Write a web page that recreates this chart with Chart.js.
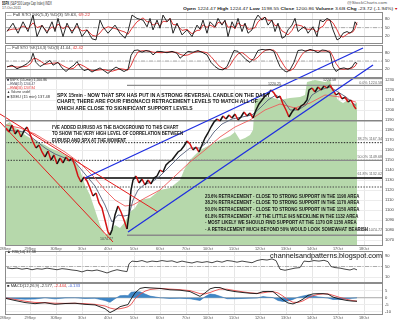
<!DOCTYPE html>
<html><head><meta charset="utf-8">
<script src="https://cdn.jsdelivr.net/npm/chart.js@4.4.1/dist/chart.umd.min.js"></script>
<style>
html,body{margin:0;padding:0;background:#fff;}
body{width:400px;height:323px;position:relative;overflow:hidden;font-family:"Liberation Sans",Arial,sans-serif;}
canvas{position:absolute;left:0;}
.t{position:absolute;white-space:nowrap;line-height:1;color:#222;z-index:5;transform-origin:0 0;}
.blk{font-weight:bold;color:#161616;}
.fib{position:absolute;white-space:nowrap;line-height:1;color:#666;font-size:3.7px;right:18px;z-index:5;}
.pl{position:absolute;white-space:nowrap;line-height:1;color:#444;font-size:3.6px;z-index:5;}
</style></head><body>
<canvas id="c1" width="400" height="32" style="top:12px;z-index:1"></canvas>
<canvas id="c2" width="400" height="33" style="top:45px;z-index:1"></canvas>
<canvas id="c3" width="400" height="209" style="top:44px;z-index:2"></canvas>
<canvas id="c4" width="400" height="32" style="top:251px;z-index:1"></canvas>
<canvas id="c5" width="400" height="39" style="top:283px;z-index:1"></canvas>

<div class="t" data-w="50" style="left:2px;top:0.6px;font-size:5px"><b>$SPX</b> <span style="color:#333">(S&amp;P 500 Large Cap Index) INDX</span></div>
<div class="t" data-w="19" style="left:2px;top:6.6px;font-size:3.6px;color:#444">17-Oct-2011</div>
<div class="t" data-w="40" style="left:347px;top:0.8px;font-size:4px;color:#555">@StockCharts.com</div>
<div class="t" data-w="214" style="left:183px;top:6.5px;font-size:4.4px"><b>Open</b> 1224.47 <b>High</b> 1224.47 <b>Low</b> 1198.55 <b>Close</b> 1200.86 <b>Volume</b> 3.6B <b>Chg</b> -23.72 (-1.94%) <span style="color:#c00">&#9662;</span></div>

<div class="t" data-w="83" style="left:7px;top:12.8px;font-size:4px;color:#333">&#8212; Full STO %K(5,3) %D(3) 59.63, <span style="color:#e03030">69.22</span></div>
<div class="t" data-w="76" style="left:7px;top:45.8px;font-size:4px;color:#333">&#8212; Full STO %K(14,3) %D(3) 41.04, <span style="color:#e03030">42.42</span></div>

<div class="t" data-w="40" style="left:6.5px;top:79.2px;font-size:3.8px;color:#333"><span style="color:#223">&#9632;</span> $SPX (15-min) 1,200.86</div>
<div class="t" data-w="28" style="left:6.5px;top:83.2px;font-size:3.8px;color:#445"><span>&#8212;</span>EMA(13) 1204.47</div>
<div class="t" data-w="28" style="left:6.5px;top:87.2px;font-size:3.8px;color:#e03030">&#8212;EMA(34) 1207.84</div>
<div class="t" data-w="23" style="left:6.5px;top:91.4px;font-size:3.8px;color:#333">&#9650; Volume undef</div>
<div class="t" data-w="43" style="left:6.5px;top:95.8px;font-size:3.8px;color:#333">&#9632; $XEU (15 min) 137.48</div>

<div class="t blk" data-w="213" style="left:57px;top:91.6px;font-size:5px;line-height:6.6px">SPX 15min - NOW THAT SPX HAS PUT IN A STRONG REVERSAL CANDLE ON THE DAILY<br>CHART, THERE ARE FOUR FIBONACCI RETRACEMENT LEVELS TO MATCH ALL OF<br>WHICH ARE CLOSE TO SIGNIFICANT SUPPORT LEVELS</div>
<div class="t blk" data-w="131" style="left:52px;top:123.6px;font-size:5px;line-height:6.5px">I'VE ADDED EURUSD AS THE BACKGROUND TO THIS CHART<br>TO SHOW THE VERY HIGH LEVEL OF CORRELATION BETWEEN<br>EURUSD AND SPX AT THE MOMENT</div>
<div class="t blk" data-w="163" style="left:205px;top:192.6px;font-size:5px;line-height:6.65px">23.6% RETRACEMENT - CLOSE TO STRONG SUPPORT IN THE 1190 AREA<br>38.2% RETRACEMENT - CLOSE TO STRONG SUPPORT IN THE 1170 AREA<br>50.0% RETRACEMENT - CLOSE TO STRONG SUPPORT IN THE 1150 AREA<br>61.8% RETRACEMENT - AT THE LITTLE IHS NECKLINE IN THE 1132 AREA<br>- MOST LIKELY WE SHOULD FIND SUPPORT AT THE 1170 OR 1150 AREA<br>- A RETRACEMENT MUCH BEYOND 50% WOULD LOOK SOMEWHAT BEARISH</div>

<div class="fib" style="top:81.5px">0.0% 1224.58</div>
<div class="fib" style="top:138.2px">38.2% 1167.34</div>
<div class="fib" style="top:155.9px">50.0% 1149.68</div>
<div class="fib" style="top:173.2px">61.8% 1132.02</div>
<div class="fib" style="top:229.4px">100.0% 1074.77</div>

<div class="pl" style="left:323px;top:79.2px">1224.58</div>
<div class="pl" style="left:268px;top:83.2px">1220.25</div>
<div class="pl" style="left:100px;top:238.4px">1074.77</div>

<div class="t" data-w="112" style="left:270px;top:252.3px;font-size:7.6px;color:#111">channelsandpatterns.blogspot.com</div>
<div class="t" data-w="29" style="left:7px;top:250.8px;font-size:3.8px;color:#333">&#9650; RSI(14) 37.58</div>
<div class="t" data-w="73" style="left:7px;top:284.9px;font-size:3.8px;color:#333">&#9632; MACD(12,26,9) -2.577, <span style="color:#e03030">-2.444</span>, <span style="color:#4060d0">-0.133</span></div>

<script>
// ---------------- DATA ----------------
// time axis: 15-min bars, day tick positions and labels
const dayLabels = ['28Sep','29Sep','30Sep','3Oct','4Oct','5Oct','6Oct','7Oct','10Oct','11Oct','12Oct','13Oct','14Oct','17Oct','18Oct'];
const dayPos = [5,30,56,82,108,134,160,186,208,234,260,286,312,338,364];
const X_MIN = 5, X_MAX = 383;

// $SPX 15-min closes
const priceT = [6,9,12,15,18,21,24,27,30,33,
 36,39,42,45,48,51,54,57,60,63,
 66,69,72,75,78,81,84,87,90,93,
 96,99,102,105,108,110,112,115,118,121,
 124,127,129,131,133,136,139,142,145,148,
 151,154,157,160,163,166,169,172,175,178,
 181,184,187,190,193,196,199,202,205,208,
 211,214,217,220,223,226,229,232,235,238,
 241,244,247,250,253,256,259,262,265,268,
 271,274,277,280,283,286,289,292,295,298,
 301,304,307,309,312,315,318,321,324,327,
 330,333,336,339,342,345,348,351,354,356];
const priceV = [1182,1178,1185,1176,1180,1173,1179,1183,1176,1168,
 1162,1165,1158,1153,1159,1150,1155,1146,1152,1147,
 1153,1149,1152,1144,1134,1128,1133,1129,1122,1114,
 1117,1107,1102,1090,1078,1075,1080,1095,1104,1098,
 1090,1081,1096,1120,1130,1134,1127,1131,1125,1130,
 1126,1132,1134,1140,1138,1145,1148,1150,1154,1158,
 1160,1164,1169,1166,1160,1163,1158,1165,1172,1177,
 1183,1188,1191,1189,1194,1191,1195,1192,1196,1190,
 1193,1198,1194,1197,1192,1200,1206,1210,1214,1216,
 1220,1217,1212,1214,1206,1200,1193,1198,1202,1200,
 1204,1206,1210,1220,1222,1218,1223,1220,1224,1222,
 1225,1220,1215,1217,1211,1213,1208,1210,1204,1201];

// EMA(13) and EMA(34)
const ema13T = [6,15,25,35,45,55,65,75,85,95, 105,112,118,124,129,133,138,145,152,160, 170,180,190,200,207,214,222,232,242,252, 260,268,276,284,290,298,306,312,320,330, 338,346,356];
const ema13V = [1180,1179,1178,1170,1162,1156,1152,1148,1136,1124, 1105,1088,1095,1094,1095,1110,1120,1126,1128,1134, 1144,1154,1162,1162,1168,1178,1186,1191,1193,1195, 1202,1210,1215,1209,1200,1200,1205,1215,1220,1223, 1218,1213,1204.5];
const ema34T = [6,20,35,50,65,80,95,105,115,125, 133,145,160,175,190,205,220,235,250,265, 280,295,310,325,340,356];
const ema34V = [1185,1182,1176,1167,1158,1147,1132,1120,1110,1104, 1105,1112,1120,1134,1148,1160,1173,1183,1190,1200, 1206,1202,1207,1215,1213,1207.8];

// $XEU (EURUSD x100) background
const eurT = [5,10,15,20,25,30,35,40,45,50, 55,60,65,70,75,80,85,90,95,100, 105,110,115,120,125,130,135,140,150,160, 170,180,185,190,195,200,210,220,230,235, 240,245,250,253,255,260,270,280,290,300, 305,307,315,325,330,333,338,343,348,353, 357];
const eurV = [136.46,136.59,136.32,136.23,136.01,135.87,135.78,135.65,135.56,135.42, 135.33,135.24,135.11,135.02,134.88,134.43,133.76,133.31,132.63,131.96, 131.51,131.64,131.96,131.82,132.09,132.54,132.72,133.08,133.17,133.53, 133.62,133.98,134.52,134.88,135.11,135.33,135.56,135.78,135.96,136.14, 135.78,135.87,136.01,136.23,137.58,137.67,137.72,137.58,137.67,137.72, 137.81,138.39,138.48,138.39,138.48,138.03,137.58,137.45,137.58,137.36, 137.48];

// price levels
const supportLevels = [1189.2, 1167.34, 1149.68, 1123.0];
const fibLevels = [1224.58, 1149.68, 1074.77];
const fibStartT = 127;
const necklineV = 1132.02, necklineT = 85;

// trendlines (time, price endpoints)
const redSteepT = [0, 113],   redSteepV = [1188, 1068];
const redFlatT = [0, 158],    redFlatV = [1196, 1098];
const blueUpT = [85, 363],    blueUpV = [1132, 1262];
const blueLowT = [128, 373],  blueLowV = [1078, 1245];

// Full STO (5,3)
const sto1T = [7,13,18,23,28,33,37,42,47,52, 55,58,63,67,72,77,82,87,92,96, 100,103,108,115,120,125,128,132,137,143, 147,150,153,157,160,163,167,170,173,177, 182,187,192,197,200,203,207,210,215,218, 222,225,228,232,235,238,242,245,248,252, 255,258,262,265,268,272,275,278,282,285, 288,292,295,298,302,305,308,313,317,320, 323,327,330,333,337,340,343,347,350,353, 355,357];
const sto1K = [36,66,30,71,36,95,18,59,30,71, 36,83,18,66,30,66,18,42,10,6, 77,53,30,59,30,12,36,95,83,77, 53,83,42,77,48,95,71,83,30,66, 24,42,18,59,45,77,30,71,53,83, 59,77,18,71,48,83,36,66,30,42, 77,95,77,88,59,77,36,66,12,18, 42,59,83,36,48,53,30,53,18,77, 71,83,77,42,6,12,30,36,30,40, 71,60];
const sto1D = [40,45,44,56,46,67,50,57,36,53, 46,63,46,56,38,54,38,42,23,19, 31,45,53,47,40,34,26,48,71,85, 71,71,59,67,56,73,71,83,61,60, 40,44,28,40,41,60,51,59,51,69, 65,73,51,55,46,67,56,62,44,46, 50,71,83,87,75,75,57,60,38,32, 24,40,61,59,56,46,44,45,34,49, 55,77,77,67,42,20,16,26,32,35, 47,69];

// Full STO (14,3)
const sto2T = [7,12,17,22,27,31,33,36,40,45, 50,53,58,62,66,70,74,77,80,84, 88,92,96,100,104,108,112,116,120,124, 128,131,134,138,142,146,150,153,157,162, 167,172,177,180,184,188,193,198,203,207, 211,215,219,223,227,230,234,238,242,246, 250,254,258,262,266,270,274,277,280,284, 287,290,294,298,302,306,310,314,318,322, 326,330,333,336,340,344,348,352,355,357];
const sto2K = [28,35,22,30,40,55,78,45,30,40, 52,35,45,25,12,25,35,48,30,15, 20,10,18,25,15,5,18,28,20,12, 20,70,88,90,82,88,85,72,85,84, 80,85,78,60,72,85,82,88,80,72, 45,30,20,18,30,55,88,85,70,55, 45,60,88,92,90,92,85,55,30,15, 10,18,45,88,90,85,92,88,80,90, 88,80,30,12,22,25,20,28,45,41];
const sto2D = [30,31,28,29,31,42,58,59,51,38, 41,42,44,35,27,21,24,36,38,31, 22,15,16,18,19,15,13,17,22,20, 17,34,59,83,87,87,85,82,81,80, 83,83,81,74,70,72,80,85,83,80, 66,49,32,23,23,34,58,76,81,70, 57,53,64,80,90,91,89,77,57,33, 18,14,24,50,74,88,89,88,87,86, 86,86,66,41,21,20,22,24,31,42];

// RSI(14)
const rsiT = [7,12,17,22,27,32,37,42,47,52, 57,62,67,72,77,82,87,92,97,102, 107,112,117,122,127,129,132,137,142,147, 152,157,162,167,172,177,182,187,192,197, 202,207,212,217,222,227,232,237,242,247, 252,257,262,267,272,276,280,285,290,295, 300,304,309,314,319,324,328,331,335,340, 345,350,354,357];
const rsiV = [45,42,44,40,43,38,42,40,44,41, 38,42,40,37,35,30,36,34,37,32, 26,33,38,34,31,60,70,68,72,66, 70,68,72,69,71,65,70,66,63,68, 65,68,64,70,66,72,70,66,70,67, 64,72,76,74,78,72,40,36,40,44, 46,70,68,72,70,73,68,50,46,44, 40,37,42,37.6];

// MACD(12,26,9)
const macdT = [6,15,25,35,45,55,65,75,85,95, 105,110,115,120,125,128,131,135,140,145, 150,160,170,180,190,200,205,210,215,220, 227,235,243,250,257,263,268,273,278,283, 288,293,298,303,308,313,318,323,328,333, 340,347,352,357];
const macdV = [-0.5,-2.0,-3.5,-4.3,-3.6,-4.8,-4.2,-4.0,-4.8,-5.2, -8.0,-10.8,-9.0,-6.5,-5.5,-5.0,-1.0,3.5,6.8,7.5, 7.2,6.8,5.8,5.5,4.5,1.0,3.5,6.5,7.5,7.4, 5.5,4.5,3.8,3.3,3.0,4.5,4.6,4.5,1.5,-1.5, -3.8,-4.5,-3.0,-1.0,1.8,2.8,3.0,3.0,2.6,0.5, -1.0,-2.0,-2.4,-2.58];
const signalV = [-0.2,-1.2,-2.5,-3.4,-3.6,-4.0,-4.1,-4.0,-4.3,-4.8, -6.0,-7.5,-8.3,-8.0,-7.2,-6.5,-5.0,-0.8,2.5,4.8, 6.0,6.8,6.3,5.9,5.2,3.0,2.8,3.8,5.2,6.3, 6.2,5.2,4.3,3.6,3.2,3.6,4.2,4.4,3.5,1.2, -1.5,-3.3,-3.4,-2.3,-0.2,1.5,2.4,2.8,2.8,1.8, 0.2,-1.2,-2.0,-2.44];
const histV = [-0.3,-0.8,-1.0,-0.9,0.0,-0.8,-0.1,0.0,-0.5,-0.4, -2.0,-3.3,-0.7,1.5,1.7,1.5,4.0,4.3,4.3,2.7, 1.2,0.0,-0.5,-0.4,-0.7,-2.0,0.7,2.7,2.3,1.1, -0.7,-0.7,-0.5,-0.3,-0.2,0.9,0.4,0.1,-2.0,-2.7, -2.3,-1.2,0.4,1.3,2.0,1.3,0.6,0.2,-0.2,-1.3, -1.2,-0.8,-0.4,-0.13];

// axis ticks
const priceTicks = [1070,1080,1090,1100,1110,1120,1130,1140,1150,1160,1170,1180,1190,1200,1210,1220,1230];
const stoTicks = [20,50,80];
const rsiTicks = [10,30,50,70,90];
const macdTicks = [-10,-5,0,5];

// ---------------- HELPERS ----------------
const pts = (T, V) => T.map((t, i) => ({x: t, y: V[i]}));
const flat = (t0, t1, v) => [{x: t0, y: v}, {x: t1, y: v}];
const lineDs = (data, color, width, extra) => Object.assign({type: 'line', data, borderColor: color, borderWidth: width, pointRadius: 0, tension: 0, fill: false}, extra || {});

const zeroPad = s => { s.paddingTop = 0; s.paddingBottom = 0; s.paddingLeft = 0; s.paddingRight = 0; };
function xScale(showLabels) {
  return {
    type: 'linear', min: X_MIN, max: X_MAX,
    afterBuildTicks: s => { s.ticks = dayPos.map(v => ({value: v})); },
    ticks: {display: showLabels, autoSkip: false, maxRotation: 0, minRotation: 0, padding: 1, font: {size: 3.8, family: 'Liberation Sans'}, color: '#555', callback: (v, i) => dayLabels[i]},
    grid: {color: '#e6e6e6', lineWidth: 1, drawTicks: false},
    border: {display: false},
    afterFit: s => { s.height = showLabels ? 7 : 0; zeroPad(s); }
  };
}
function yScale(min, max, ticks, strongVals) {
  return {
    type: 'linear', position: 'right', min, max,
    afterBuildTicks: s => { s.ticks = ticks.map(v => ({value: v})); },
    ticks: {font: {size: 4.1, family: 'Liberation Sans'}, color: '#444', padding: 2, callback: v => String(v)},
    grid: {drawTicks: false, lineWidth: 1, color: c => (strongVals && c.tick && strongVals.includes(c.tick.value)) ? '#a0a0a0' : '#ececec'},
    border: {display: false},
    afterFit: s => { s.width = 17; zeroPad(s); }
  };
}
const framePlugin = {
  id: 'frame',
  afterDraw(c) {
    const a = c.chartArea, g = c.ctx;
    g.save(); g.strokeStyle = '#8c8c8c'; g.lineWidth = 1;
    g.strokeRect(Math.round(a.left) + 0.5, Math.round(a.top) + 0.5, Math.round(a.right - a.left) - 1, Math.round(a.bottom - a.top) - 1);
    g.restore();
  }
};
function make(id, datasets, scales, padTop) {
  return new Chart(document.getElementById(id), {
    type: 'line',
    data: {datasets},
    options: {
      responsive: false, animation: false, events: [], parsing: false,
      layout: {padding: {left: 5, right: 0, top: padTop || 0, bottom: 0}},
      plugins: {legend: {display: false}, tooltip: {enabled: false}},
      scales
    },
    plugins: [framePlugin]
  });
}
const dashDot = [4, 1.5, 1, 1.5];

// ---------------- STO PANELS ----------------
make('c1', [
  lineDs(pts(sto1T, sto1K), '#111', 0.9, {order: 1}),
  lineDs(pts(sto1T, sto1D), '#e02828', 0.9, {order: 2}),
  lineDs(flat(X_MIN, X_MAX, 50), '#9a9a9a', 0.8, {borderDash: dashDot, order: 5})
], {x: xScale(false), y: yScale(-8.6, 106, stoTicks, [20, 80])});

make('c2', [
  lineDs(pts(sto2T, sto2K), '#111', 0.9, {order: 1}),
  lineDs(pts(sto2T, sto2D), '#e02828', 0.9, {order: 2}),
  lineDs(flat(X_MIN, X_MAX, 50), '#9a9a9a', 0.8, {borderDash: dashDot, order: 5})
], {x: xScale(false), y: yScale(-11.6, 108, stoTicks, [20, 80])});

// ---------------- MAIN PRICE PANEL ----------------
const supportStyles = [
  {c: '#858585', w: 1.6, d: []},
  {c: '#222', w: 1, d: [1.4, 1.4]},
  {c: '#333', w: 1, d: [1.4, 1.4]},
  {c: '#444', w: 1, d: [1.4, 1.4]}
];
const mainSets = [];
mainSets.push(lineDs(pts(eurT, eurV), 'rgba(0,0,0,0)', 0, {yAxisID: 'y2', fill: 'start', backgroundColor: '#b6d8ab', order: 30}));
supportLevels.forEach((lv, i) => mainSets.push(lineDs(flat(X_MIN, X_MAX, lv), supportStyles[i].c, supportStyles[i].w, {borderDash: supportStyles[i].d, order: 20})));
fibLevels.forEach(lv => mainSets.push(lineDs(flat(fibStartT, X_MAX, lv), '#8a8a8a', 1.3, {order: 19})));
mainSets.push(lineDs(flat(necklineT, X_MAX, necklineV), '#000', 1.6, {order: 18}));
mainSets.push(lineDs(pts(ema34T, ema34V), '#ee5a5a', 0.9, {order: 6}));
mainSets.push(lineDs(pts(ema13T, ema13V), '#55607a', 0.9, {order: 5}));
mainSets.push(lineDs(pts(priceT, priceV), '#111', 1.5, {order: 3, segment: {borderColor: c => c.p1.parsed.y < c.p0.parsed.y ? '#d41414' : '#151515'}}));
mainSets.push(lineDs(pts(redSteepT, redSteepV), '#e51c1c', 1, {clip: false, order: 1}));
mainSets.push(lineDs(pts(redFlatT, redFlatV), '#e51c1c', 1, {clip: false, order: 1}));
mainSets.push(lineDs(pts(blueUpT, blueUpV), '#1f2ee0', 1.3, {clip: false, order: 0}));
mainSets.push(lineDs(pts(blueLowT, blueLowV), '#1f2ee0', 1.3, {clip: false, order: 0}));

make('c3', mainSets, {
  x: xScale(true),
  y: yScale(1064, 1232, priceTicks, null),
  y2: {type: 'linear', display: false, min: 131.01, max: 138.57}
}, 34);

// ---------------- RSI ----------------
make('c4', [
  lineDs(pts(rsiT, rsiV), '#333', 0.9, {order: 1}),
  lineDs(flat(X_MIN, X_MAX, 50), '#9a9a9a', 0.8, {borderDash: dashDot, order: 5})
], {x: xScale(false), y: yScale(-11.1, 107.4, rsiTicks, [30, 70])});

// ---------------- MACD ----------------
make('c5', [
  lineDs(pts(macdT, histV), '#2f74b5', 0.6, {fill: 'origin', backgroundColor: '#3f86c6', order: 5}),
  lineDs(pts(macdT, signalV), '#e84848', 0.9, {order: 2}),
  lineDs(pts(macdT, macdV), '#111', 0.9, {order: 1}),
  lineDs(flat(X_MIN, X_MAX, 0), '#9a9a9a', 0.8, {order: 6})
], {x: xScale(true), y: yScale(-12.56, 10.75, macdTicks, null)});

// fit small text blocks to measured reference widths
document.querySelectorAll('[data-w]').forEach(el => {
  const w = el.getBoundingClientRect().width;
  if (w > 0) el.style.transform = 'scaleX(' + (parseFloat(el.dataset.w) / w) + ')';
});
</script>
</body></html>
